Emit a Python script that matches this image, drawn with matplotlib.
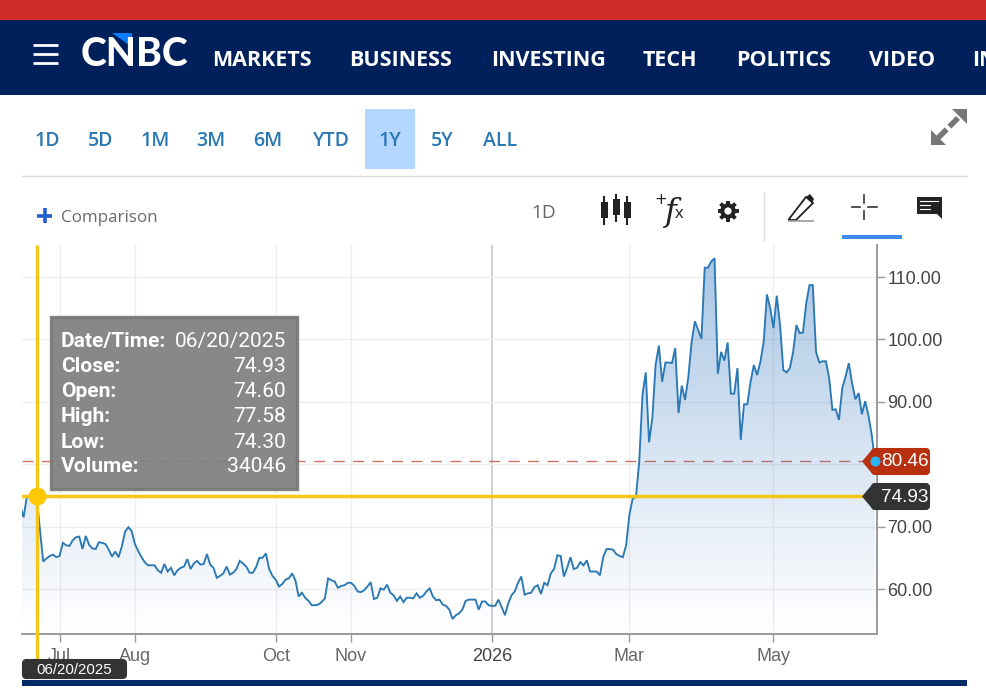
import numpy as np
import matplotlib
matplotlib.use("Agg")
import matplotlib.pyplot as plt
from matplotlib.patches import Rectangle, Polygon, Circle, FancyBboxPatch

# ---------- data ----------
close_a = [73.3, 71.5, 74.8, 75.0, 74.9, 74.93, 69.5, 64.4, 64.9, 65.3, 65.5, 65.1, 65.3, 67.4, 67.0, 66.9, 67.8,
           68.3, 68.4, 66.4, 68.5, 67.1, 66.5, 66.4, 67.5, 67.4, 67.2, 66.3, 65.2, 66.0, 65.1, 66.8, 69.2, 69.9,
           69.3, 67.2, 66.1, 65.1, 64.3, 63.8, 63.8, 63.8, 63.0, 62.6, 64.0, 62.8, 63.4, 62.2, 63.0, 63.4, 63.6,
           64.8, 63.2, 64.1, 64.5, 63.9, 64.0, 65.6, 63.9, 63.4, 61.8, 62.1, 62.5, 63.6, 62.3, 62.6, 63.2, 64.5,
           64.1, 63.6, 62.6, 62.6, 63.5, 65.0, 65.0, 65.7, 63.2, 62.1, 61.5, 60.4, 60.8, 61.5, 61.7, 62.5, 61.4,
           58.8, 59.4, 58.6, 58.1, 57.4, 57.4, 57.5, 57.9, 58.5]
close_b = [61.7, 61.4, 61.2, 60.2, 60.5, 60.6, 61.0, 61.0, 60.5, 59.6, 59.5, 59.8, 60.4, 61.1, 58.4, 58.6, 60.1,
           59.9, 60.7, 59.4, 59.0, 58.1, 58.8, 57.9, 58.6, 58.6, 58.5, 59.3, 58.6, 58.9, 59.6, 60.1, 58.8, 58.2,
           58.3, 57.5, 57.3, 56.7, 55.2, 55.8, 56.1, 56.7, 58.1, 58.3, 58.3, 58.3, 56.7, 58.0, 58.0, 57.4, 57.3,
           57.3, 58.3, 57.1, 55.8, 57.7, 59.0, 59.6, 61.0, 62.0, 59.1, 59.3, 59.4, 60.3, 60.6, 59.2, 61.0, 60.6,
           62.5, 63.2, 65.4, 65.3, 62.0, 63.4, 65.1, 63.2, 63.4, 64.3, 63.8, 64.6, 62.8, 62.8, 62.8, 62.2, 65.1,
           66.4, 66.4, 66.3, 65.6, 65.3, 65.1, 67.0]
close_c = [71.9, 74.5, 74.7, 80.4, 91.1, 94.7, 83.5, 87.4, 95.9, 99.0, 93.2, 96.3, 96.3, 96.2, 98.6, 88.2, 92.6,
           90.3, 94.0, 99.6, 102.9, 101.5, 100.1, 111.5, 111.5, 112.5, 113.0, 94.5, 98.0, 96.6, 99.5, 91.3, 91.3,
           95.4, 83.9, 89.6, 89.6, 93.2, 95.9, 94.3, 96.4, 99.6, 107.2, 105.0, 101.8, 107.0, 102.3, 95.1, 94.7,
           95.4, 98.0, 102.3, 101.0, 101.1, 105.8, 108.7, 108.7, 98.0, 96.3, 96.5, 96.5, 93.8, 88.7, 88.8, 87.1,
           92.2, 94.0, 96.2, 93.0, 90.4, 91.4, 88.0, 90.1, 87.8, 84.7, 80.46]
close = np.array(close_a + close_b + close_c)

y_ticks = [60, 70, 80, 90, 100, 110]
y_labels = ["60.00", "70.00", "", "90.00", "100.00", "110.00"]
x_tick_pos = [12, 35, 78, 101, 144, 186, 230]
x_labels = ["Jul", "Aug", "Oct", "Nov", "2026", "Mar", "May"]
last_close = 80.46
hover_close = 74.93
hover_index = 5
nav_items = ["MARKETS", "BUSINESS", "INVESTING", "TECH", "POLITICS", "VIDEO", "IN"]
range_items = ["1D", "5D", "1M", "3M", "6M", "YTD", "1Y", "5Y", "ALL"]
tooltip_keys = ["Date/Time:", "Close:", "Open:", "High:", "Low:", "Volume:"]
tooltip_vals = ["06/20/2025", "74.93", "74.60", "77.58", "74.30", "34046"]

# ---------- layout helpers ----------
W, H = 987, 698
fig = plt.figure(figsize=(W / 100, H / 100), dpi=100, facecolor="white")
def px(v):
    return v * 0.72
def axes_px(x0, y0, x1, y1, **kw):
    return fig.add_axes([x0 / W, 1 - y1 / H, (x1 - x0) / W, (y1 - y0) / H], **kw)

# ---------- chrome behind ----------
bg = fig.add_axes([0, 0, 1, 1], zorder=0)
bg.set_xlim(0, W); bg.set_ylim(H, 0); bg.axis("off")
NAVY = "#00205c"
bg.add_patch(Rectangle((0, 0), W, 20, color="#cf2c2b", lw=0))
bg.add_patch(Rectangle((0, 20), W, 75, color=NAVY, lw=0))
for yy in (45, 54, 63):
    bg.plot([33, 58], [yy, yy], color="white", lw=2.0, solid_capstyle="butt")
bg.text(81, 54, "CNBC", color="white", fontsize=px(39), fontweight="black", family="Lato", va="center", ha="left")
bg.add_patch(Polygon([[112, 33], [132, 33], [132, 47]], color="#0a7cff", lw=0))
for t, x in zip(nav_items, [212, 349, 491, 643, 736, 869, 972]):
    bg.text(x, 61, t, color="white", fontsize=px(21.5), fontweight="bold", family="Open Sans", va="center", ha="left", clip_on=True)
bg.add_patch(Rectangle((365, 109), 50, 60, color="#b3d7ff", lw=0))
for t, x in zip(range_items, [47, 101, 155, 211, 268, 331, 390, 442, 500]):
    bg.text(x, 141, t, color="#2a78b4", fontsize=px(19.5), fontweight="semibold", family="Open Sans", va="center", ha="center")
bg.plot([22, 967], [175.5, 175.5], color="#dddddd", lw=1)
# expand icon
bg.plot([938, 960], [138, 116], color="#777777", lw=4, dashes=(2.2, 0.7))
bg.add_patch(Polygon([[967, 109], [967, 124], [952, 109]], color="#777777", lw=0))
bg.add_patch(Polygon([[931, 145], [931, 130], [946, 145]], color="#777777", lw=0))
# comparison
bg.plot([37, 52], [215.5, 215.5], color="#1f5fd0", lw=2.6, solid_capstyle="butt")
bg.plot([44.5, 44.5], [208, 223], color="#1f5fd0", lw=2.6, solid_capstyle="butt")
bg.text(61, 218, "Comparison", color="#6b6b6b", fontsize=px(17), family="Open Sans", va="center", ha="left")
bg.text(544, 213, "1D", color="#666666", fontsize=px(19), family="Open Sans", va="center", ha="center")
# candles icon
DK = "#222222"
for cx, top, bot, wt, wb in [(604, 202, 218, 197, 224), (616, 199, 215, 195, 221), (627, 202, 218, 197, 224)]:
    bg.plot([cx, cx], [wt, wb], color=DK, lw=1.5)
    bg.add_patch(Rectangle((cx - 3.5, top), 7, bot - top, color=DK, lw=0))
# fx icon
bg.text(661, 200, "+", color=DK, fontsize=px(15), va="center", ha="center", family="DejaVu Sans")
bg.text(671, 212, "f", color=DK, fontsize=px(32), family="DejaVu Serif", style="italic", va="center", ha="center")
bg.text(679, 213, "x", color=DK, fontsize=px(17), family="Liberation Sans", va="center", ha="center")
# gear icon
for a in np.arange(0, 180, 45):
    dx, dy = 10.5 * np.cos(np.radians(a)), 10.5 * np.sin(np.radians(a))
    bg.plot([728 - dx, 728 + dx], [211 - dy, 211 + dy], color=DK, lw=2.8, solid_capstyle="butt", zorder=1)
bg.add_patch(Circle((728, 211), 7.8, color=DK, lw=0, zorder=1.1))
bg.add_patch(Circle((728, 211), 3.6, color="white", lw=0, zorder=1.2))
bg.plot([763.5, 763.5], [192, 240], color="#dddddd", lw=1)
# pencil icon
bg.add_patch(Polygon([[789, 219], [806, 197], [813, 203], [796, 220], [789, 220]], fc="white", ec=DK, lw=1.3))
bg.add_patch(Polygon([[806, 197], [810, 194], [814, 199], [812, 203]], color=DK, lw=0))
bg.plot([789, 813], [220.5, 220.5], color="#999999", lw=1.2)
# crosshair icon
for seg in ([[852, 860], [207, 207]], [[868, 877], [207, 207]], [[864, 864], [195, 203]], [[864, 864], [211, 219]]):
    bg.plot(seg[0], seg[1], color="#333333", lw=1.2)
bg.add_patch(Rectangle((842, 235), 60, 4, color="#3d8bea", lw=0))
# comment icon
bg.add_patch(Polygon([[917, 197], [942, 197], [942, 219], [937, 214], [917, 214]], color=DK, lw=0))
for yy, x1 in ((201, 938), (205, 930), (209, 930)):
    bg.plot([920, x1], [yy, yy], color="white", lw=0.8)
bg.add_patch(Rectangle((22, 680), 945, 6, color="#012a66", lw=0))

# ---------- chart ----------
Y_PER_UNIT = 6.24
ax = axes_px(22, 245, 877, 634, zorder=1)
ax.patch.set_alpha(0)
n = len(close)
x = np.arange(n)
step = (875 - 20.3) / (n - 1)
xlims = ((22 - 20.3) / step, (877 - 20.3) / step)
ylo, yhi = 60 - (634 - 589) / Y_PER_UNIT, 110 + (277 - 245) / Y_PER_UNIT
for s in ("top", "left"):
    ax.spines[s].set_visible(False)
for s in ("right", "bottom"):
    ax.spines[s].set_color("#999999"); ax.spines[s].set_linewidth(1.4)
ax.yaxis.tick_right()
ax.set_yticks(y_ticks, y_labels, fontsize=px(18), family="Liberation Sans", color="#444444")
ax.set_xticks(x_tick_pos, x_labels, fontsize=px(18), family="Liberation Sans", color="#666666")
ax.tick_params(axis="y", length=8 * 0.72, width=1, color="#999999", pad=1.8)
ax.tick_params(axis="x", length=8 * 0.72, width=1, color="#999999", pad=4.6)
ax.get_xticklabels()[4].set_color("#444444")
ax.grid(True, color="#eeeeee", lw=1)
ax.set_axisbelow(True)
ax.get_xgridlines()[4].set_color("#cccccc")
ax.get_xgridlines()[4].set_linewidth(1.3)
ax.set_xlim(*xlims)
ax.set_ylim(ylo, yhi)

# dashed last close (below the fill)
ax.axhline(last_close, color="#c0503c", lw=1, dashes=(8, 6), alpha=0.8, zorder=1.5, xmax=(865 - 22) / 855)

# gradient area
grad = np.zeros((256, 1, 4))
grad[..., 0], grad[..., 1], grad[..., 2] = 30 / 255, 105 / 255, 185 / 255
grad[..., 3] = (np.linspace(0.40, 0.0, 256) ** 1.05)[:, None]
im = ax.imshow(grad, extent=[x[0], x[-1], ylo, close.max()], origin="upper", aspect="auto", zorder=2,
               interpolation="bilinear")
verts = np.vstack([[x[0], ylo], np.column_stack([x, close]), [x[-1], ylo]])
clip = Polygon(verts, transform=ax.transData, fc="none", ec="none")
ax.add_patch(clip)
im.set_clip_path(clip)
ax.set_xlim(*xlims)
ax.set_ylim(ylo, yhi)
ax.plot(x, close, color="#2a78b4", lw=1.35, zorder=3, solid_joinstyle="miter")

# crosshair
YEL = "#f5c518"
ax.axhline(hover_close, color=YEL, lw=2.5, zorder=4, xmax=(868 - 22) / 855)
ax.plot([hover_index, hover_index], [ylo - 26 / Y_PER_UNIT, yhi], color=YEL, lw=2.4, zorder=4, clip_on=False, solid_capstyle="butt")
ax.plot([hover_index], [hover_close], "o", color="#ffc800", ms=13, mew=0, zorder=5)

# ---------- overlay ----------
ov = fig.add_axes([0, 0, 1, 1], zorder=3)
ov.set_xlim(0, W); ov.set_ylim(H, 0); ov.axis("off"); ov.patch.set_alpha(0)
ov.add_patch(Rectangle((51, 317), 246, 172, fc="#7f7f7f", ec="#787878", lw=2.4, alpha=0.93))
for t, v, yy in zip(tooltip_keys, tooltip_vals, [341.5, 366.5, 391.5, 417, 442, 467]):
    ov.text(61, yy, t, color="white", fontsize=px(21), fontweight="bold", family="Roboto", va="center", ha="left")
    ov.text(286, yy, v, color="white", fontsize=px(21), family="Roboto", va="center", ha="right")

def tag(y0, y1, color, label):
    ym = (y0 + y1) / 2
    ov.add_patch(FancyBboxPatch((872, y0 + 1), 57, y1 - y0 - 2, boxstyle="round,pad=0,rounding_size=3", fc=color, ec=color, lw=1.5))
    ov.add_patch(Polygon([[862, ym], [873, y0 + 0.5], [873, y1 - 0.5]], color=color, lw=0))
    ov.text(881, ym + 0.5, label, color="white", fontsize=px(19), family="Liberation Sans", va="center", ha="left")

tag(448, 475, "#b8300e", f"{last_close:.2f}")
ov.add_patch(Circle((875.5, 461.5), 5, color="#29b6f6", lw=0))
tag(483, 510, "#333333", f"{hover_close:.2f}")
ov.add_patch(FancyBboxPatch((23, 660), 103, 18, boxstyle="round,pad=0,rounding_size=3.5", fc="#333333", ec="#333333", lw=1.5))
ov.text(74.5, 669.5, tooltip_vals[0], color="white", fontsize=px(15), family="Liberation Sans", va="center", ha="center")

fig.savefig("out.png", dpi=100)
